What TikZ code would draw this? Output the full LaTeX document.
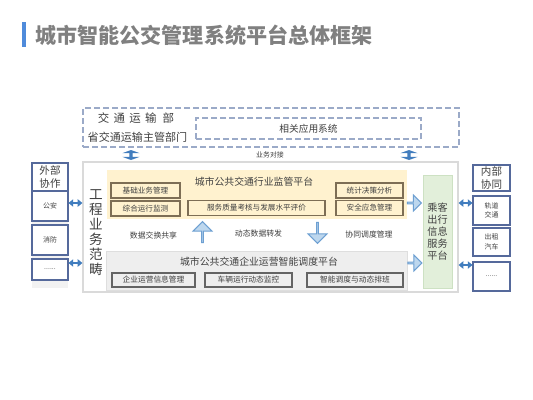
\documentclass[tikz,border=0pt]{standalone}
\usepackage{fontspec}
\setmainfont{Noto Sans CJK SC}
\usetikzlibrary{shapes.arrows,arrows.meta,calc}

\definecolor{titlegray}{RGB}{128,128,128}
\definecolor{barblue}{RGB}{79,139,219}
\definecolor{dashblue}{RGB}{155,170,200}
\definecolor{textgray}{RGB}{64,64,64}
\definecolor{framegray}{RGB}{218,218,218}
\definecolor{platyellow}{RGB}{255,242,207}
\definecolor{cellbrown}{RGB}{125,110,85}
\definecolor{platgray}{RGB}{238,238,238}
\definecolor{platline}{RGB}{222,222,222}
\definecolor{cellgray}{RGB}{100,100,100}
\definecolor{platgreen}{RGB}{226,239,218}
\definecolor{greenline}{RGB}{205,225,195}
\definecolor{colblue}{RGB}{85,105,155}
\definecolor{colbg}{RGB}{242,242,242}
\definecolor{linkblue}{RGB}{65,125,190}
\definecolor{fatfill}{RGB}{189,215,238}
\definecolor{fatline}{RGB}{110,160,210}

\tikzset{every picture/.style={line width=0.75pt}}

\begin{document}
\begin{tikzpicture}[x=0.75pt,y=0.75pt,yscale=-1,xscale=1,
  txt/.style={inner sep=0.75pt,text=textgray},
  dashbox/.style={draw=dashblue,dash pattern=on 4.5pt off 2.25pt,line width=0.9pt},
  colcell/.style={draw=colblue,fill=white,line width=0.8pt,minimum width=27pt,inner sep=0pt,align=center,text=textgray},
  ycell/.style={draw=cellbrown,fill=platyellow,line width=0.9pt,minimum height=11.25pt,inner sep=0pt,text=textgray,font=\fontsize{5.7}{6}\selectfont},
  gcell/.style={draw=cellgray,fill=platgray,line width=0.9pt,minimum height=10.5pt,inner sep=0pt,text=textgray,font=\fontsize{5.8}{6}\selectfont},
  link/.style={{Triangle[width=5.5pt,length=3.5pt]}-{Triangle[width=5.5pt,length=3.5pt]},draw=linkblue,line width=1.8pt},
  fatarrow/.style={single arrow,draw=fatline,fill=fatfill,line width=0.75pt,inner sep=0pt},
  updown/.style={double arrow,fill=linkblue,inner sep=0pt,shape border rotate=90,double arrow tip angle=140,double arrow head extend=1.5pt,minimum width=13pt,minimum height=7.5pt}
]
\useasboundingbox (0,0) rectangle (533,400);

%Shape: Title bar
\fill [barblue] (22,22) rectangle (26,47) ;
% Text Node
\node [anchor=west,inner sep=0pt,text=titlegray,font=\fontsize{15.8}{16}\selectfont\bfseries] (title) at (35,35) {城市智能公交管理系统平台总体框架};

%Shape: Rectangle (dashed, ministry)
\node [dashbox,fill=white,minimum width=282pt,minimum height=29.25pt] (mot) at (271,127.5) {};
\node [dashbox,fill=white,minimum width=168.75pt,minimum height=15.75pt,txt,font=\fontsize{7.3}{8}\selectfont] (apps) at (308.5,128.5) {相关应用系统};
% Text Node
\node [txt,font=\fontsize{8.6}{9}\selectfont] (motname) at (136,118) {交\hspace{3.2pt}通\hspace{3.2pt}运\hspace{3.2pt}输\hspace{4.5pt}部};
% Text Node
\node [txt,font=\fontsize{8.3}{9}\selectfont] (prov) at (137.5,137) {省交通运输主管部门};

%Shape: up/down links
\node [updown] (udl) at (131,155) {};
\node [updown] (udr) at (409,155) {};
% Text Node
\node [txt,font=\fontsize{5.2}{6}\selectfont] (duijie) at (270,155) {业务对接};

%Shape: Rectangle (main frame)
\node [draw=framegray,fill=white,line width=0.9pt,minimum width=281.25pt,minimum height=97.5pt] (main) at (270.5,227) {};
% Text Node
\node [txt,align=center,font=\fontsize{10.2}{11.25}\selectfont] (scope) at (96,232.5) {工\\程\\业\\务\\范\\畴};

%Shape: outside column
\fill [colbg] (32,163) rectangle (68,288) ;
\node [colcell,minimum height=21pt,font=\fontsize{7.9}{10}\selectfont] (outhead) at (50,177) {外部\\协作};
\node [colcell,minimum height=22.5pt,font=\fontsize{5.2}{6}\selectfont] (gongan) at (50,206) {公安};
\node [colcell,minimum height=22.5pt,font=\fontsize{5.2}{6}\selectfont] (xiaofang) at (50,240) {消防};
\node [colcell,minimum height=15.75pt,font=\fontsize{5.2}{6}\selectfont] (outdots) at (50,269.5) {......};

%Shape: inside column
\node [colcell,minimum width=27.75pt,minimum height=19.5pt,font=\fontsize{7.9}{10}\selectfont] (inhead) at (491.5,178) {内部\\协同};
\node [colcell,minimum width=27.75pt,minimum height=21.75pt,font=\fontsize{5.2}{7}\selectfont] (guidao) at (491.5,210.5) {轨道\\交通};
\node [colcell,minimum width=27.75pt,minimum height=21pt,font=\fontsize{5.2}{7}\selectfont] (chuzu) at (491.5,242) {出租\\汽车};
\node [colcell,minimum width=27.75pt,minimum height=21.75pt,font=\fontsize{5.2}{6}\selectfont] (indots) at (491.5,276.5) {......};

%Shape: supervision platform
\node [fill=platyellow,minimum width=225pt,minimum height=36.75pt] (super) at (257,194.5) {};
% Text Node
\node [txt,font=\fontsize{7.4}{8}\selectfont] (supertitle) at (254,182) {城市公共交通行业监管平台};
\node [ycell,minimum width=51.75pt] (jichu) at (145.5,190.5) {基础业务管理};
\node [ycell,minimum width=51.75pt] (zonghe) at (145.5,208.5) {综合运行监测};
\node [ycell,minimum width=102.75pt] (fuwu) at (256.5,208) {服务质量考核与发展水平评价};
\node [ycell,minimum width=50.25pt] (tongji) at (369.5,190.5) {统计决策分析};
\node [ycell,minimum width=50.25pt] (anquan) at (369.5,208) {安全应急管理};

% Text Node
\node [txt,font=\fontsize{5.9}{6}\selectfont] (shuju) at (153.5,235) {数据交换共享};
\node [txt,font=\fontsize{5.9}{6}\selectfont] (dongtai) at (258.5,234) {动态数据转发};
\node [txt,font=\fontsize{5.9}{6}\selectfont] (xietong) at (369,234) {协同调度管理};
%Shape: middle arrows
\node [fatarrow,shape border rotate=90,minimum width=14.25pt,minimum height=15.75pt,single arrow head extend=3.75pt] (uparr) at (202.5,232.5) {};
\node [fatarrow,shape border rotate=270,minimum width=14.25pt,minimum height=15.75pt,single arrow head extend=3.75pt] (downarr) at (317.5,232.5) {};

%Shape: dispatch platform
\node [draw=platline,fill=platgray,minimum width=225.75pt,minimum height=29.25pt] (dispatch) at (256.5,270.5) {};
% Text Node
\node [txt,font=\fontsize{7.4}{8}\selectfont] (dispatchtitle) at (259,262) {城市公共交通企业运营智能调度平台};
\node [gcell,minimum width=62.25pt] (qiye) at (153.5,280) {企业运营信息管理};
\node [gcell,minimum width=65.25pt] (cheliang) at (248.5,280) {车辆运行动态监控};
\node [gcell,minimum width=72pt] (zhineng) at (355,280) {智能调度与动态排班};

%Shape: passenger platform
\node [draw=greenline,fill=platgreen,minimum width=21.75pt,minimum height=84.75pt,txt,align=center,font=\fontsize{7.6}{9}\selectfont] (passenger) at (437.5,231.5) {乘客\\出行\\信息\\服务\\平台};

%Shape: right arrows
\node [fatarrow,minimum width=12pt,minimum height=10.5pt,single arrow head extend=3pt] (yarr) at (414,203) {};
\node [fatarrow,minimum width=12pt,minimum height=10.5pt,single arrow head extend=3pt] (garr) at (414.5,263) {};

%Straight Lines: links
\draw [link] (yarr -| outhead.east) -- (yarr -| main.west) ;
\draw [link] (garr -| outhead.east) -- (garr -| main.west) ;
\draw [link] (yarr -| main.east) -- (yarr -| inhead.west) ;
\draw [link] ($(garr -| main.east)+(0,2)$) -- ($(garr -| inhead.west)+(0,2)$) ;

\end{tikzpicture}
\end{document}
